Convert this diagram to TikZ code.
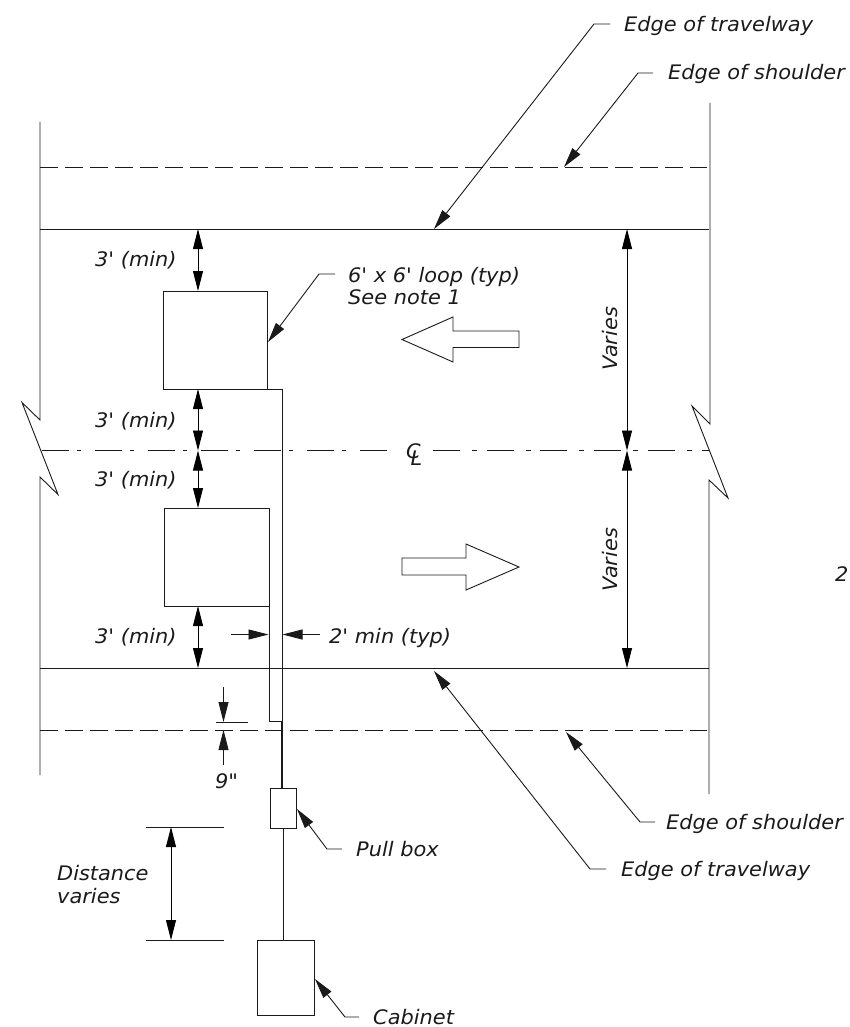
\documentclass[tikz,border=0pt]{standalone}
\usepackage{fontspec}
\setmainfont{DejaVu Sans}[Ligatures=TeXOff,FakeStretch=1.045]
\usetikzlibrary{arrows.meta}
\definecolor{ink}{HTML}{1A1A1A}
\tikzset{
 x=1pt,y=-1pt,
 road/.style={line width=0.9pt,draw=ink},
 boxed/.style={draw=ink,line width=0.9pt,fill=white,inner sep=0pt,outer sep=0pt,minimum width=#1},
 lane/.style={road,dash pattern=on 17.5pt off 7.5pt},
 cl/.style={road,dash pattern=on 27pt off 8pt on 4pt off 14pt},
 clr/.style={road,dash pattern=on 27pt off 12pt on 5pt off 9.7pt},
 dim/.style={line width=0.9pt,draw=black,{Triangle[length=20pt,width=10pt]}-{Triangle[length=20pt,width=10pt]}},
 lead/.style={line width=0.9pt,draw=ink,-{Triangle[length=20pt,width=10pt]}},
 lbl/.style={font=\fontsize{20}{23}\selectfont\itshape,anchor=base west,inner sep=0pt,text=ink},
 vlbl/.style={font=\fontsize{20}{23}\selectfont\itshape,inner sep=0pt,text=ink,rotate=90,anchor=base},
 hollow/.style={draw=ink,line width=0.9pt,fill=white},
}
\begin{document}
\begin{tikzpicture}
\path[fill=white,use as bounding box] (0,0) rectangle (849,1027);
% road edges
\draw[road] (40,122) -- (40,420) -- (22,402.5) -- (58,494.5) -- (40,477) -- (40,775);
\draw[road] (710,103) -- (710,424) -- (692,406) -- (728,498) -- (709,480) -- (709,794);
\draw[road] (40,229) -- (709,229);
\draw[road] (40,668) -- (709,668);
\draw[lane] (40,167) -- (707,167);
\draw[lane] (40,730) -- (707,730);
\draw[cl] (42,450.5) -- (387,450.5);
\draw[clr] (433,450.5) -- (709,450.5);
\node[lbl] (cc) at (406,458) {\rlap{C}\kern4.5pt\raisebox{-7pt}{L}};
% loops
\node[boxed=103.5pt,minimum height=98pt,anchor=north west] (loopa) at (163.5,291) {};
\node[boxed=104.5pt,minimum height=98pt,anchor=north west] (loopb) at (164.5,508) {};
\node[boxed=26pt,minimum height=40pt,anchor=north west] (pull) at (270.7,788) {};
\node[boxed=57pt,minimum height=75.5pt,anchor=north west] (cab) at (257,940) {};
% wires
\coordinate (wa) at (282,389);
\coordinate (wbt) at (269,606);
\coordinate (wbm) at (269,721);
\coordinate (wbr) at (281,721);
\draw[road] (267,389) -- (wa) -- (wa |- pull.north);
\draw[road] (wbt) -- (wbm) -- (wbr) -- (wbr |- pull.north);
\draw[road] (283.5,828) -- (283.5,940);
% hollow arrows
\draw[hollow] (402,339.5) -- (453,317) -- (453,331) -- (519,331) -- (519,347.5) -- (453,347.5) -- (453,362) -- cycle;
\draw[hollow] (519,567) -- (466,544) -- (466,558) -- (402,558) -- (402,575) -- (466,575) -- (466,590) -- cycle;
% dims
\draw[dim] (198,229) -- (198,291);
\draw[dim] (198,389) -- (198,450.5);
\draw[dim] (198,450.5) -- (198,508);
\draw[dim] (198,606) -- (198,668);
\draw[dim] (627,229) -- (627,450.5);
\draw[dim] (627,450.5) -- (627,668);
\draw[road] (146,827) -- (224,827);
\draw[road] (146,940) -- (224,940);
\draw[dim] (171,827) -- (171,940);
\draw[road] (216,722) -- (248,722);
\draw[lead] (223.5,687) -- (223.5,722);
\draw[lead] (223.5,765) -- (223.5,730);
\draw[lead] (231,634.5) -- (268.5,634.5);
\draw[lead] (320,634.5) -- (282.5,634.5);
% leaders
\draw[lead] (610,24) -- (594,24) -- (434,229);
\draw[lead] (653,73) -- (638,73) -- (564,167);
\draw[lead] (335,274) -- (319,274) -- (268,342);
\draw[lead] (655,822) -- (640,822) -- (566,732);
\draw[lead] (606,869) -- (590,869) -- (434,671);
\draw[lead] (342,849) -- (327,849) -- (297,809);
\draw[lead] (359,1017) -- (345,1017) -- (315,979);
% texts
\node[lbl] (t1) at (624,31.5) {Edge of travelway};
\node[lbl] (t2) at (668,80) {Edge of shoulder};
\node[lbl] (t3) at (666,829) {Edge of shoulder};
\node[lbl] (t4) at (621,876) {Edge of travelway};
\node[lbl] (t5) at (348,282.5) {6' x 6' loop (typ)};
\node[lbl] (t6) at (348,304) {See note 1};
\node[lbl] (m1) at (95,266) {3' (min)};
\node[lbl] (m2) at (95,427) {3' (min)};
\node[lbl] (m3) at (95,486) {3' (min)};
\node[lbl] (m4) at (95,643) {3' (min)};
\node[lbl] (t7) at (329,643) {2' min (typ)};
\node[lbl] (t8) at (215,788) {9"};
\node[lbl] (t9) at (356,856) {Pull box};
\node[lbl] (t10) at (57,880) {Distance};
\node[lbl] (t11) at (57,903) {varies};
\node[lbl] (t12) at (373,1024) {Cabinet};
\node[lbl] (t13) at (835,581) {2};
\node[vlbl] (v1) at (617,339) {Varies};
\node[vlbl] (v2) at (617,560) {Varies};
\end{tikzpicture}
\end{document}
